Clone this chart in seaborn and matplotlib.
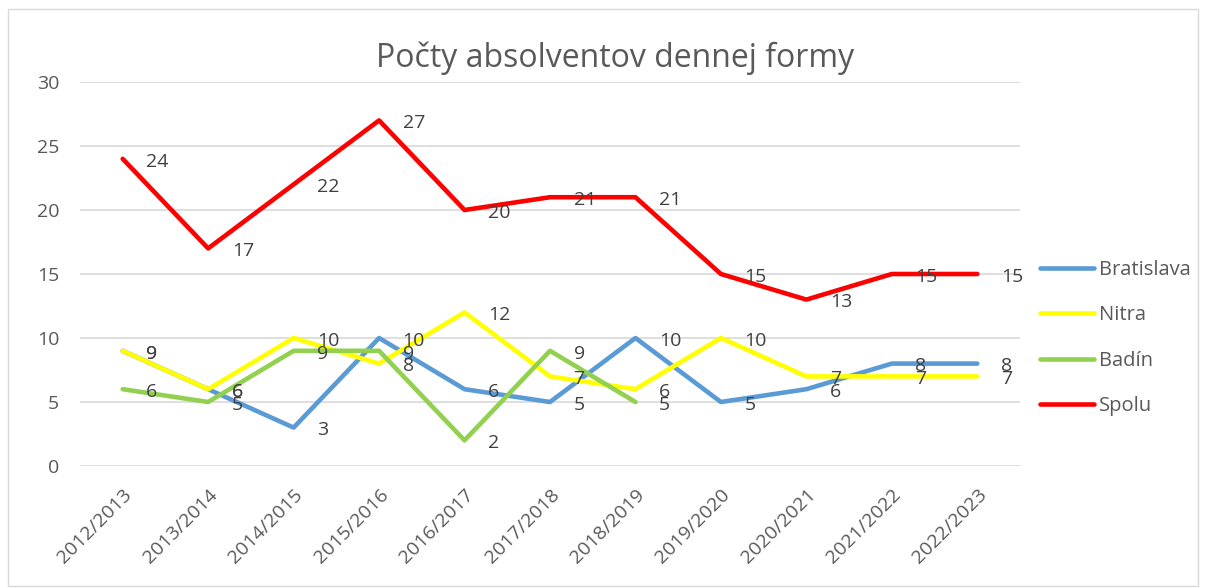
import matplotlib
matplotlib.use("Agg")
import matplotlib.pyplot as plt
import seaborn as sns
import pandas as pd
from matplotlib.patches import Rectangle
from matplotlib.lines import Line2D

years = ["2012/2013", "2013/2014", "2014/2015", "2015/2016", "2016/2017", "2017/2018",
         "2018/2019", "2019/2020", "2020/2021", "2021/2022", "2022/2023"]
bratislava = [9, 6, 3, 10, 6, 5, 10, 5, 6, 8, 8]
nitra = [9, 6, 10, 8, 12, 7, 6, 10, 7, 7, 7]
badin = [6, 5, 9, 9, 2, 9, 5]
spolu = [24, 17, 22, 27, 20, 21, 21, 15, 13, 15, 15]

series = {"Bratislava": bratislava, "Nitra": nitra, "Badín": badin, "Spolu": spolu}
colors = {"Bratislava": "#5B9BD5", "Nitra": "#FFFF00", "Badín": "#92D050", "Spolu": "#FF0000"}

rows = []
for name, vals in series.items():
    for i, v in enumerate(vals):
        rows.append({"x": i, "value": v, "series": name})
df = pd.DataFrame(rows)

sns.set_theme(style="white")
plt.rcParams["font.family"] = ["Open Sans", "DejaVu Sans"]

fig = plt.figure(figsize=(12.06, 5.88), dpi=100)
ax = fig.add_axes([0.0663, 0.2075, 0.7795, 0.653])

fig.patches.append(Rectangle((8 / 1206, 0.003), 1190 / 1206, 0.982, transform=fig.transFigure,
                             fill=False, edgecolor="#D9D9D9", linewidth=1))

sns.lineplot(data=df, x="x", y="value", hue="series", palette=colors, linewidth=3.3,
             ax=ax, legend=False, sort=False)

for name, vals in series.items():
    for i, v in enumerate(vals):
        ax.annotate(str(v), (i, v), xytext=(17, -2), textcoords="offset points",
                    ha="left", va="center", fontsize=14, color="#404040")

ax.set_xlim(-0.5, len(years) - 0.5)
ax.set_ylim(0, 30)
ax.set_yticks(range(0, 31, 5))
ax.set_xticks(range(len(years)))
ax.set_xticklabels(years, rotation=45, ha="right", rotation_mode="anchor")
ax.tick_params(axis="both", length=0, labelsize=14, labelcolor="#595959")
ax.tick_params(axis="y", pad=15)
ax.tick_params(axis="x", pad=14)
ax.grid(axis="y", color="#D9D9D9", linewidth=1.2)
ax.set_axisbelow(True)
for s in ax.spines.values():
    s.set_visible(False)
ax.set_xlabel("")
ax.set_ylabel("")

fig.text(0.51, 0.901, "Počty absolventov dennej formy", ha="center", va="center",
         fontsize=23, color="#595959")

handles = [Line2D([0], [0], color=colors[n], linewidth=3.3, solid_capstyle="round") for n in series]
fig.legend(handles, list(series.keys()), loc="center left", bbox_to_anchor=(0.847, 0.425),
           frameon=False, fontsize=14.5, labelcolor="#595959", labelspacing=1.27,
           handlelength=2.7, handletextpad=0.25)

fig.savefig("out.png", dpi=100)
